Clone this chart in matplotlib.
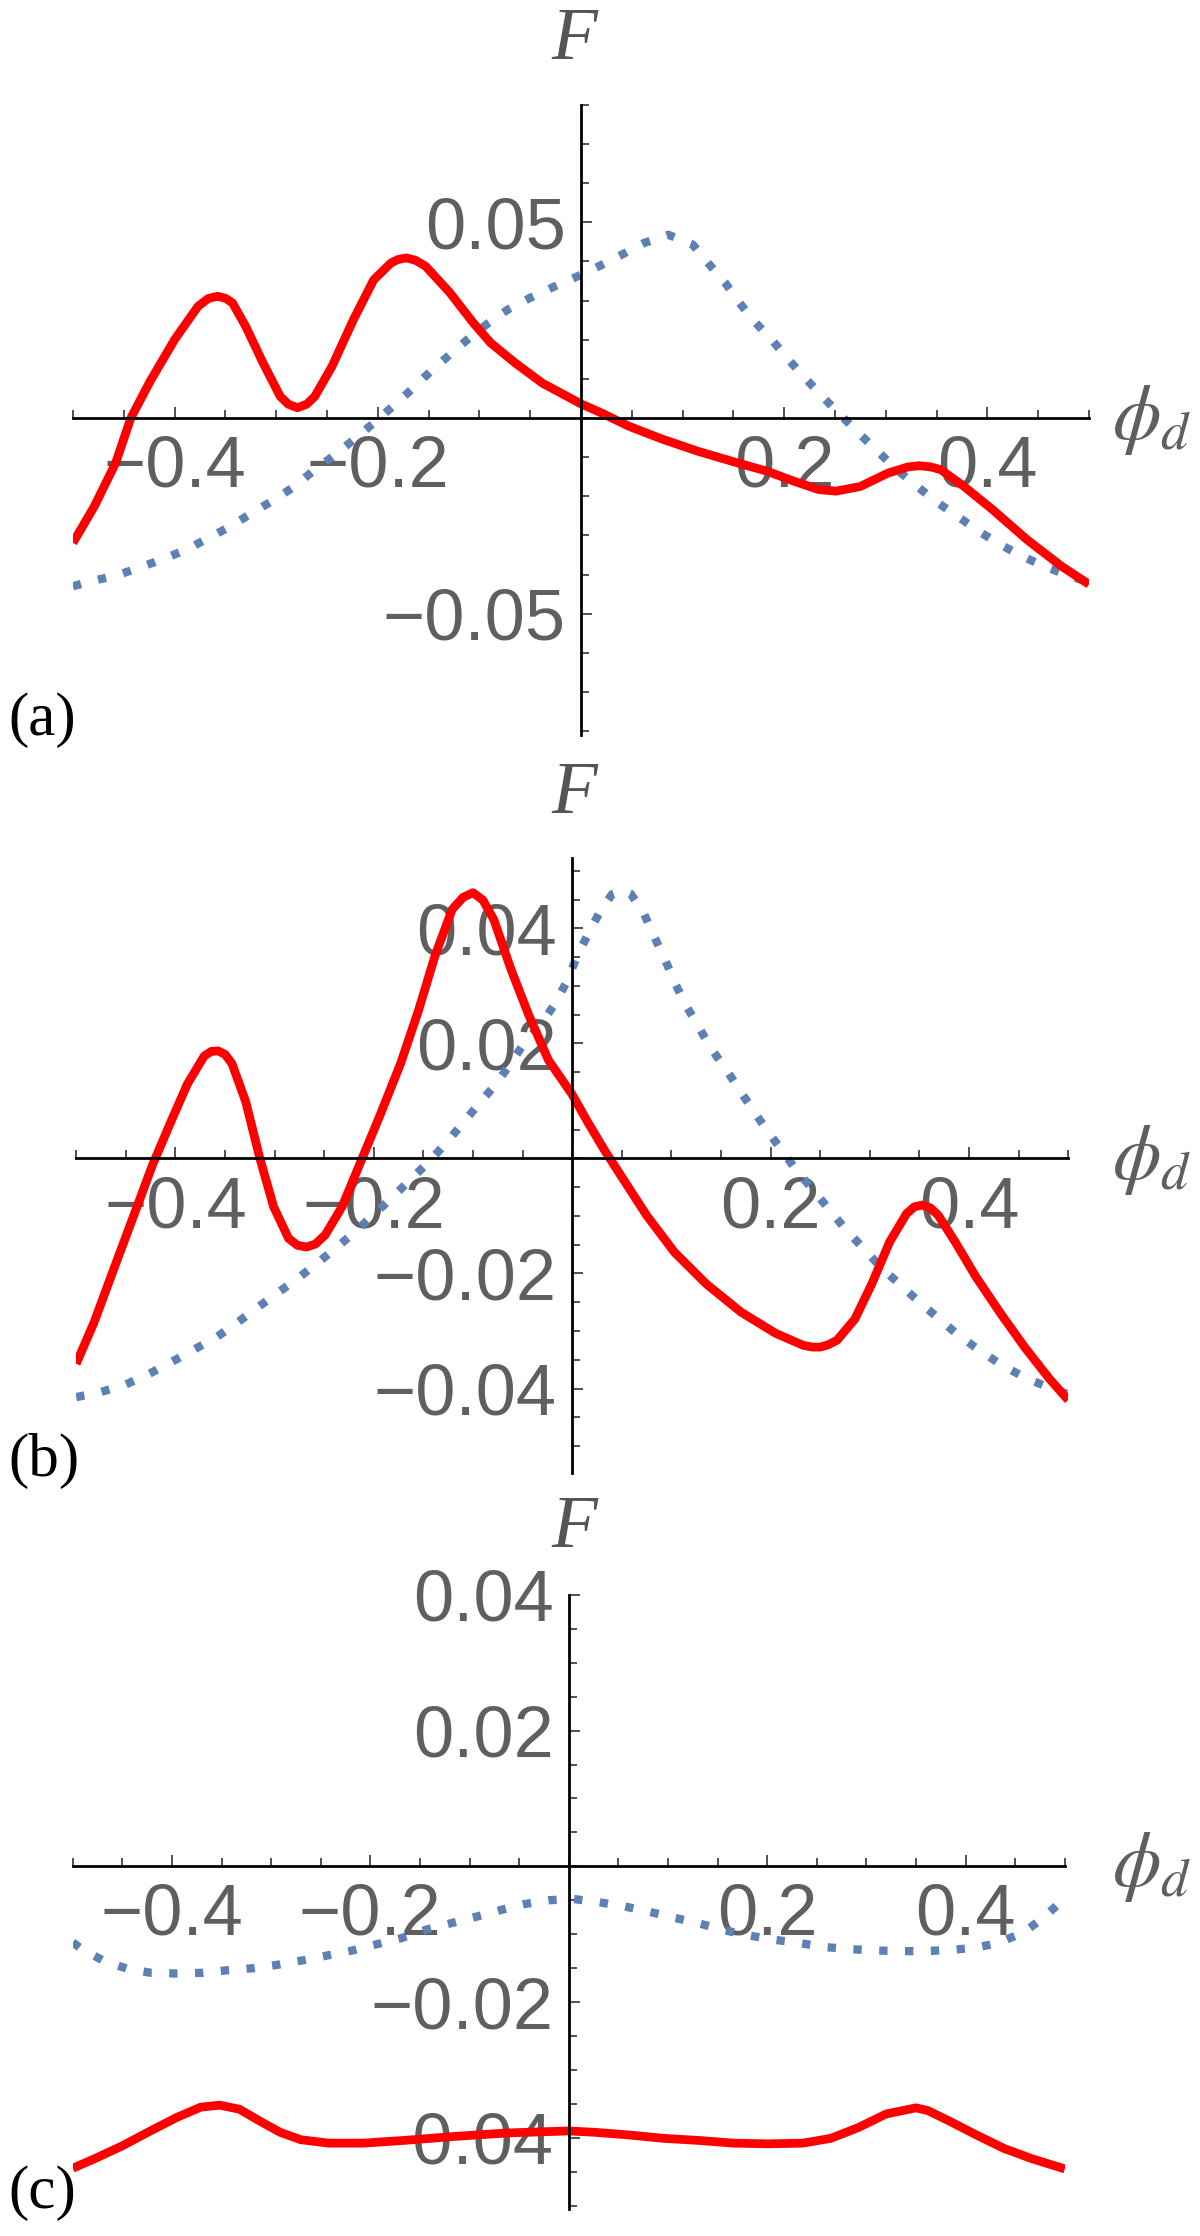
import matplotlib.pyplot as plt
from matplotlib.ticker import FixedLocator, FixedFormatter

plt.rcParams['font.family'] = ['Liberation Sans', 'DejaVu Sans']
plt.rcParams['mathtext.fontset'] = 'stix'

# panel (a)
red_a_x = [-0.500, -0.479, -0.458, -0.443, -0.424, -0.400, -0.377, -0.367, -0.358, -0.350,
           -0.343, -0.330, -0.313, -0.296, -0.288, -0.279, -0.270, -0.262, -0.245, -0.224,
           -0.204, -0.187, -0.180, -0.172, -0.163, -0.153, -0.129, -0.106, -0.089, -0.065,
           -0.038, 0.000, 0.020, 0.047, 0.081, 0.115, 0.149, 0.183, 0.210, 0.234,
           0.251, 0.275, 0.302, 0.322, 0.333, 0.344, 0.354, 0.377, 0.405, 0.439, 0.473, 0.500]
red_a_y = [-0.0319, -0.0226, -0.0115, 0.0000, 0.0094, 0.0200, 0.0285, 0.0305, 0.0311, 0.0306,
           0.0294, 0.0234, 0.0141, 0.0055, 0.0035, 0.0026, 0.0035, 0.0055, 0.0132, 0.0251,
           0.0353, 0.0396, 0.0405, 0.0409, 0.0403, 0.0388, 0.0320, 0.0243, 0.0192, 0.0141,
           0.0089, 0.0036, 0.0013, -0.0021, -0.0055, -0.0085, -0.0111, -0.0136, -0.0162, -0.0183,
           -0.0187, -0.0175, -0.0141, -0.0125, -0.0122, -0.0125, -0.0132, -0.0175, -0.0234, -0.0311, -0.0379, -0.0425]
blue_a_x = [-0.500, -0.482, -0.458, -0.435, -0.411, -0.387, -0.367, -0.345, -0.324, -0.302,
            -0.282, -0.262, -0.243, -0.223, -0.204, -0.185, -0.167, -0.148, -0.129, -0.111,
            -0.092, -0.072, -0.050, -0.026, -0.005, 0.018, 0.040, 0.062, 0.086, 0.110,
            0.125, 0.142, 0.156, 0.172, 0.189, 0.205, 0.222, 0.239, 0.256, 0.275,
            0.292, 0.309, 0.330, 0.349, 0.370, 0.390, 0.411, 0.433, 0.456, 0.480, 0.500]
blue_a_y = [-0.0430, -0.0417, -0.0403, -0.0383, -0.0360, -0.0335, -0.0307, -0.0277, -0.0243, -0.0209,
            -0.0175, -0.0132, -0.0096, -0.0054, -0.0013, 0.0030, 0.0072, 0.0119, 0.0162, 0.0202,
            0.0241, 0.0277, 0.0307, 0.0336, 0.0360, 0.0388, 0.0417, 0.0447, 0.0468, 0.0443,
            0.0396, 0.0345, 0.0294, 0.0243, 0.0196, 0.0147, 0.0098, 0.0051, 0.0006, -0.0043,
            -0.0085, -0.0128, -0.0173, -0.0213, -0.0250, -0.0287, -0.0321, -0.0352, -0.0379, -0.0403, -0.0420]

# panel (b)
red_b_x = [-0.500, -0.482, -0.461, -0.440, -0.423, -0.405, -0.388, -0.371, -0.364, -0.357,
           -0.350, -0.343, -0.329, -0.315, -0.301, -0.286, -0.277, -0.268, -0.259, -0.249,
           -0.232, -0.213, -0.194, -0.173, -0.155, -0.138, -0.121, -0.110, -0.100, -0.090,
           -0.079, -0.062, -0.044, -0.024, 0.000, 0.016, 0.033, 0.051, 0.075, 0.103,
           0.135, 0.170, 0.205, 0.233, 0.242, 0.250, 0.258, 0.267, 0.285, 0.302,
           0.320, 0.337, 0.345, 0.353, 0.361, 0.369, 0.386, 0.407, 0.432, 0.456, 0.481, 0.500]
red_b_y = [-0.0357, -0.0285, -0.0187, -0.0090, -0.0011, 0.0062, 0.0129, 0.0178, 0.0186, 0.0187,
           0.0181, 0.0165, 0.0098, 0.0001, -0.0084, -0.0139, -0.0151, -0.0154, -0.0149, -0.0133,
           -0.0084, -0.0005, 0.0074, 0.0165, 0.0257, 0.0354, 0.0433, 0.0454, 0.0462, 0.0449,
           0.0415, 0.0330, 0.0250, 0.0171, 0.0111, 0.0062, 0.0013, -0.0035, -0.0099, -0.0163,
           -0.0218, -0.0267, -0.0304, -0.0325, -0.0328, -0.0328, -0.0324, -0.0316, -0.0279, -0.0218,
           -0.0145, -0.0096, -0.0084, -0.0081, -0.0086, -0.0099, -0.0145, -0.0206, -0.0270, -0.0328, -0.0383, -0.0420]
blue_b_x = [-0.500, -0.475, -0.450, -0.426, -0.404, -0.381, -0.358, -0.338, -0.318, -0.298,
            -0.277, -0.257, -0.237, -0.218, -0.199, -0.181, -0.162, -0.144, -0.126, -0.110,
            -0.094, -0.077, -0.062, -0.048, -0.032, -0.017, -0.005, 0.005, 0.016, 0.028,
            0.040, 0.051, 0.059, 0.072, 0.082, 0.093, 0.103, 0.114, 0.127, 0.140,
            0.155, 0.169, 0.183, 0.198, 0.213, 0.227, 0.244, 0.260, 0.277, 0.295,
            0.312, 0.331, 0.350, 0.370, 0.389, 0.410, 0.431, 0.453, 0.477, 0.500]
blue_b_y = [-0.0415, -0.0406, -0.0393, -0.0374, -0.0354, -0.0332, -0.0310, -0.0286, -0.0260, -0.0235,
            -0.0209, -0.0182, -0.0154, -0.0126, -0.0096, -0.0067, -0.0035, -0.0005, 0.0029, 0.0062,
            0.0095, 0.0129, 0.0165, 0.0202, 0.0232, 0.0270, 0.0309, 0.0352, 0.0390, 0.0429,
            0.0459, 0.0466, 0.0460, 0.0427, 0.0388, 0.0348, 0.0307, 0.0268, 0.0230, 0.0191,
            0.0155, 0.0118, 0.0082, 0.0045, 0.0010, -0.0023, -0.0057, -0.0091, -0.0126, -0.0159,
            -0.0191, -0.0220, -0.0250, -0.0279, -0.0307, -0.0333, -0.0357, -0.0378, -0.0396, -0.0410]

# panel (c)
red_c_x = [-0.500, -0.478, -0.450, -0.423, -0.395, -0.371, -0.352, -0.332, -0.312, -0.291,
           -0.270, -0.242, -0.207, -0.166, -0.114, -0.062, 0.000, 0.026, 0.061, 0.096,
           0.131, 0.166, 0.201, 0.236, 0.264, 0.292, 0.320, 0.350, 0.362, 0.383,
           0.411, 0.439, 0.467, 0.500]
red_c_y = [-0.0445, -0.0431, -0.0412, -0.0391, -0.0370, -0.0355, -0.0352, -0.0358, -0.0375, -0.0392,
           -0.0403, -0.0408, -0.0408, -0.0404, -0.0398, -0.0393, -0.0390, -0.0392, -0.0396, -0.0401,
           -0.0404, -0.0408, -0.0409, -0.0408, -0.0401, -0.0385, -0.0365, -0.0356, -0.0360, -0.0375,
           -0.0396, -0.0416, -0.0431, -0.0446]
blue_c_x = [-0.500, -0.490, -0.469, -0.445, -0.421, -0.395, -0.369, -0.343, -0.317, -0.293,
            -0.266, -0.242, -0.218, -0.194, -0.169, -0.143, -0.119, -0.095, -0.070, -0.046,
            -0.020, 0.004, 0.031, 0.056, 0.081, 0.107, 0.131, 0.156, 0.182, 0.206,
            0.232, 0.258, 0.283, 0.309, 0.336, 0.360, 0.386, 0.411, 0.435, 0.460, 0.479, 0.497]
blue_c_y = [-0.0112, -0.0123, -0.0139, -0.0151, -0.0157, -0.0158, -0.0157, -0.0153, -0.0150, -0.0145,
            -0.0138, -0.0131, -0.0124, -0.0115, -0.0106, -0.0093, -0.0084, -0.0075, -0.0065, -0.0056,
            -0.0050, -0.0048, -0.0053, -0.0059, -0.0067, -0.0076, -0.0084, -0.0094, -0.0102, -0.0108,
            -0.0113, -0.0119, -0.0122, -0.0124, -0.0125, -0.0125, -0.0123, -0.0120, -0.0112, -0.0096, -0.0075, -0.0051]

x_ticks = [-0.4, -0.2, 0.2, 0.4]
x_labels = ['\u22120.4', '\u22120.2', '0.2', '0.4']
y_ticks_a = [-0.05, 0.05]
y_labels_a = ['\u22120.05', '0.05']
y_ticks_bc = [-0.04, -0.02, 0.02, 0.04]
y_labels_bc = ['\u22120.04', '\u22120.02', '0.02', '0.04']

label_gray = '#5f5f5f'
blue = '#5E81B5'

fig = plt.figure(figsize=(12, 22.36), dpi=100)


def draw(rect, rx, ry, bx, by, ylim, yt, yl, ystep, name, f_y, phi_y, tag_y):
    ax = fig.add_axes(rect)
    ax.plot(bx, by, color=blue, lw=6, ls=(0, (1, 2.1)), dash_capstyle='butt',
            solid_joinstyle='round')
    ax.plot(rx, ry, color='red', lw=6.3, solid_joinstyle='round', solid_capstyle='butt')
    ax.set_xlim(-0.5, 0.5)
    ax.set_ylim(ylim)
    for s in ['top', 'right']:
        ax.spines[s].set_visible(False)
    ax.spines['left'].set_position(('data', 0))
    ax.spines['bottom'].set_position(('data', 0))
    for s in ['left', 'bottom']:
        ax.spines[s].set_linewidth(2.0)
    ax.xaxis.set_major_locator(FixedLocator(x_ticks))
    ax.xaxis.set_major_formatter(FixedFormatter(x_labels))
    ax.xaxis.set_minor_locator(FixedLocator([i * 0.05 for i in range(-10, 11) if i % 4 != 0 or i == 0]))
    ax.yaxis.set_major_locator(FixedLocator(yt))
    ax.yaxis.set_major_formatter(FixedFormatter(yl))
    n0 = int(round(ylim[0] / ystep)) - 1
    n1 = int(round(ylim[1] / ystep)) + 1
    ax.yaxis.set_minor_locator(FixedLocator([i * ystep for i in range(n0, n1 + 1)]))
    ax.tick_params(which='both', direction='in', color='#333333', width=1.2,
                   labelsize=52, labelcolor=label_gray)
    ax.tick_params(which='major', length=8)
    ax.tick_params(which='minor', length=5.5)
    ax.tick_params(axis='x', pad=12)
    ax.tick_params(axis='y', pad=11)
    fig.text(574 / 1200, 1 - f_y / 2236, 'F', family='Liberation Serif', style='italic',
             fontsize=54, color='#555555', ha='center', va='center')
    fig.text(1112 / 1200, 1 - phi_y / 2236, r'$\phi_{d}$', fontsize=56, color=label_gray,
             ha='left', va='center')
    fig.text(8 / 1200, 1 - tag_y / 2236, name, family='Liberation Serif', fontsize=44,
             color='black', ha='left', va='center')
    return ax


draw([0.0608, 0.6713, 0.8467, 0.2818], red_a_x, red_a_y, blue_a_x, blue_a_y,
     (-0.081, 0.080), y_ticks_a, y_labels_a, 0.01, '(a)', 41, 420, 720)
draw([0.0635, 0.3412, 0.8267, 0.2750], red_b_x, red_b_y, blue_b_x, blue_b_y,
     (-0.0547, 0.0522), y_ticks_bc, y_labels_bc, 0.005, '(b)', 795, 1160, 1461)
draw([0.0606, 0.0121, 0.8267, 0.2746], red_c_x, red_c_y, blue_c_x, blue_c_y,
     (-0.0505, 0.040), y_ticks_bc, y_labels_bc, 0.005, '(c)', 1529, 1867, 2193)

fig.savefig('out.png', dpi=100)
plt.close(fig)
